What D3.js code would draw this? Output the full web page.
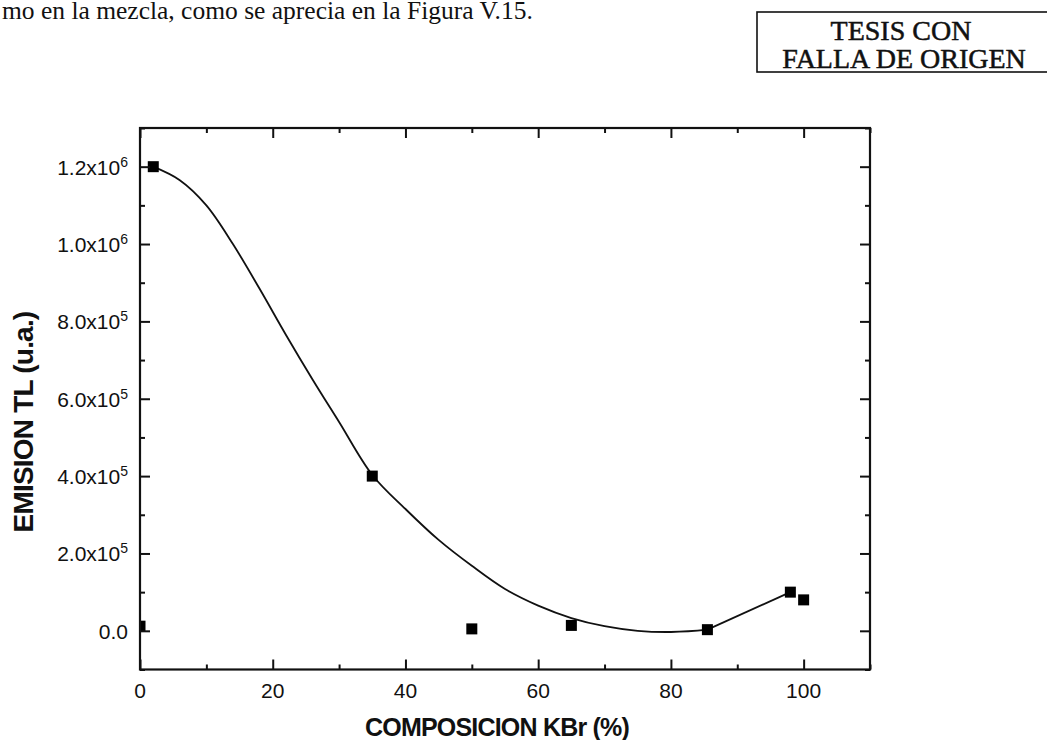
<!DOCTYPE html>
<html>
<head>
<meta charset="utf-8">
<script src="https://cdn.jsdelivr.net/npm/d3@7"></script>
<style>
  html, body { margin: 0; padding: 0; background: #fff; }
  svg { display: block; }
</style>
</head>
<body>
<svg id="chart" width="1047" height="740"></svg>
<script>
// Measured samples: TL emission vs KBr composition
const composition = [0, 2, 35, 50, 65, 85.5, 98, 100];
const emission    = [1.2e4, 1.2e6, 4.0e5, 5e3, 1.4e4, 3e3, 1.0e5, 8.0e4];

// Fitted curve (smooth part)
const fitX = [2, 6, 10, 14, 18, 22, 26, 30, 35, 40, 45, 50, 55, 60, 65, 70, 75, 80, 85.5];
const fitY = [1.2e6, 1.165e6, 1.1e6, 1.0e6, 8.85e5, 7.65e5, 6.5e5, 5.4e5, 4.03e5, 3.15e5, 2.35e5, 1.68e5, 1.08e5, 6.5e4, 3.3e4, 1.2e4, 0, -3e3, 3e3];
// Straight closing segment of the curve
const segX = [85.5, 98];
const segY = [3e3, 1.0e5];

// Axis ticks
const xTicks = [0, 20, 40, 60, 80, 100];
const xMinor = [10, 30, 50, 70, 90, 110];
const yTicks = [0, 2e5, 4e5, 6e5, 8e5, 1.0e6, 1.2e6];
const yMinor = [-1e5, 1e5, 3e5, 5e5, 7e5, 9e5, 1.1e6, 1.3e6];
const yTickMantissa = ["0.0", "2.0", "4.0", "6.0", "8.0", "1.0", "1.2"];
const yTickExponent = ["", "5", "5", "5", "5", "6", "6"];

const svg = d3.select("#chart");
const L = 140, R = 870, T = 128, B = 669.5;

const x = d3.scaleLinear().domain([0, 110]).range([L, R]);
const y = d3.scaleLinear().domain([-1e5, 1.3e6]).range([B, T]);

svg.append("rect").attr("width", 1047).attr("height", 740).attr("fill", "#fff");

const serif = "'Liberation Serif', 'Times New Roman', serif";

// Running text line at the top of the page
svg.append("text")
  .attr("x", 2).attr("y", 19)
  .attr("font-family", serif)
  .attr("font-size", 25.5)
  .attr("fill", "#111")
  .text("mo en la mezcla, como se aprecia en la Figura V.15.");

// Stamp box
const stamp = svg.append("g");
stamp.append("rect")
  .attr("x", 757).attr("y", 12).attr("width", 300).attr("height", 60)
  .attr("fill", "none").attr("stroke", "#111").attr("stroke-width", 1.6);
stamp.append("text")
  .attr("x", 901).attr("y", 40)
  .attr("text-anchor", "middle")
  .attr("font-family", serif)
  .attr("font-size", 28).attr("fill", "#111")
  .attr("stroke", "#111").attr("stroke-width", 0.5)
  .text("TESIS CON");
stamp.append("text")
  .attr("x", 904).attr("y", 68)
  .attr("text-anchor", "middle")
  .attr("font-family", serif)
  .attr("font-size", 28).attr("fill", "#111")
  .attr("stroke", "#111").attr("stroke-width", 0.5)
  .text("FALLA DE ORIGEN");

// Clip to plot area
svg.append("defs").append("clipPath").attr("id", "plotClip")
  .append("rect").attr("x", L).attr("y", T).attr("width", R - L).attr("height", B - T);

const plot = svg.append("g").attr("clip-path", "url(#plotClip)");

// Fitted curve
const smoothLine = d3.line()
  .x((d, i) => x(fitX[i]))
  .y((d, i) => y(fitY[i]))
  .curve(d3.curveCatmullRom.alpha(0.5));
plot.append("path")
  .attr("d", smoothLine(fitX))
  .attr("fill", "none").attr("stroke", "#111").attr("stroke-width", 1.8);

const straightLine = d3.line()
  .x((d, i) => x(segX[i]))
  .y((d, i) => y(segY[i]));
plot.append("path")
  .attr("d", straightLine(segX))
  .attr("fill", "none").attr("stroke", "#111").attr("stroke-width", 1.8);

// Square markers
const ms = 11;
plot.selectAll("rect.pt")
  .data(composition)
  .enter().append("rect")
  .attr("class", "pt")
  .attr("x", (d) => x(d) - ms / 2)
  .attr("y", (d, i) => y(emission[i]) - ms / 2)
  .attr("width", ms).attr("height", ms)
  .attr("fill", "#000");

// Axes with inward ticks on all four sides
function styleAxis(g) {
  g.selectAll("path.domain").remove();
  g.selectAll("line").attr("stroke", "#111").attr("stroke-width", 2);
}
const major = 10, minor = 5;

svg.append("g").attr("transform", `translate(${L},0)`)
  .call(d3.axisLeft(y).tickValues(yTicks).tickSize(-major).tickSizeOuter(0).tickFormat(""))
  .call(styleAxis);
svg.append("g").attr("transform", `translate(${L},0)`)
  .call(d3.axisLeft(y).tickValues(yMinor).tickSize(-minor).tickSizeOuter(0).tickFormat(""))
  .call(styleAxis);
svg.append("g").attr("transform", `translate(${R},0)`)
  .call(d3.axisRight(y).tickValues(yTicks).tickSize(-major).tickSizeOuter(0).tickFormat(""))
  .call(styleAxis);
svg.append("g").attr("transform", `translate(${R},0)`)
  .call(d3.axisRight(y).tickValues(yMinor).tickSize(-minor).tickSizeOuter(0).tickFormat(""))
  .call(styleAxis);
svg.append("g").attr("transform", `translate(0,${B})`)
  .call(d3.axisBottom(x).tickValues(xTicks).tickSize(-major).tickSizeOuter(0).tickFormat(""))
  .call(styleAxis);
svg.append("g").attr("transform", `translate(0,${B})`)
  .call(d3.axisBottom(x).tickValues(xMinor).tickSize(-minor).tickSizeOuter(0).tickFormat(""))
  .call(styleAxis);
svg.append("g").attr("transform", `translate(0,${T})`)
  .call(d3.axisTop(x).tickValues(xTicks).tickSize(-major).tickSizeOuter(0).tickFormat(""))
  .call(styleAxis);
svg.append("g").attr("transform", `translate(0,${T})`)
  .call(d3.axisTop(x).tickValues(xMinor).tickSize(-minor).tickSizeOuter(0).tickFormat(""))
  .call(styleAxis);

// Frame
svg.append("rect")
  .attr("x", L).attr("y", T).attr("width", R - L).attr("height", B - T)
  .attr("fill", "none").attr("stroke", "#111").attr("stroke-width", 2.2);

const sans = "'Liberation Sans', Arial, sans-serif";

// X tick labels
svg.append("g").selectAll("text")
  .data(xTicks).enter().append("text")
  .attr("x", (d) => x(d)).attr("y", B + 28)
  .attr("text-anchor", "middle")
  .attr("font-family", sans).attr("font-size", 21).attr("fill", "#111")
  .text((d) => d);

// Y tick labels with power-of-ten notation
const yl = svg.append("g").selectAll("text")
  .data(yTicks).enter().append("text")
  .attr("x", 128).attr("y", (d) => y(d) + 8)
  .attr("text-anchor", "end")
  .attr("font-family", sans).attr("font-size", 21).attr("fill", "#111");
yl.each(function (d, i) {
  const t = d3.select(this);
  if (yTickExponent[i] === "") {
    t.text(yTickMantissa[i]);
  } else {
    t.append("tspan").text(yTickMantissa[i] + "x10");
    t.append("tspan").attr("dy", -8).attr("font-size", 14).text(yTickExponent[i]);
  }
});

// Axis titles
svg.append("text")
  .attr("x", 497).attr("y", 736)
  .attr("text-anchor", "middle")
  .attr("font-family", sans).attr("font-weight", "bold")
  .attr("font-size", 25).attr("letter-spacing", -0.8).attr("fill", "#111")
  .text("COMPOSICION KBr (%)");

svg.append("text")
  .attr("transform", "translate(33,422) rotate(-90)")
  .attr("text-anchor", "middle")
  .attr("font-family", sans).attr("font-weight", "bold")
  .attr("font-size", 28).attr("letter-spacing", -0.8).attr("fill", "#111")
  .text("EMISION TL (u.a.)");
</script>
</body>
</html>
